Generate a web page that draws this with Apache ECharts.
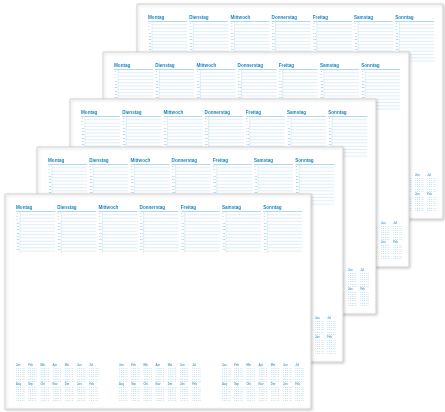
<!DOCTYPE html>
<html><head><meta charset="utf-8">
<script src="https://cdn.jsdelivr.net/npm/echarts@6/dist/echarts.min.js"></script>
<style>html,body{margin:0;padding:0;background:#fff}#c{width:445px;height:412px}</style>
</head><body><div id="c"></div>
<script>
const days = ['Montag','Dienstag','Mittwoch','Donnerstag','Freitag','Samstag','Sonntag'];
const hours = ['7','8','9','10','11','12','13','14','15','16','17','18'];
const months = ['Jan','Feb','Mär','Apr','Mai','Jun','Jul','Aug','Sep','Okt','Nov','Dez','Jan','Feb'];
const sheetX = [137,103,70,37,5];
const sheetY = [4,52,99,147,194];

const W = 306, H = 215, BLUE = '#1f86bf', LIGHT = '#9ccbe6';
const els = [];
for (let s = 0; s < sheetX.length; s++) {
  const ox = sheetX[s], oy = sheetY[s];
  els.push({type:'rect', shape:{x:ox,y:oy,width:W,height:H},
    style:{fill:'#fff', stroke:'#d6d6d6', lineWidth:1, shadowBlur:3, shadowColor:'rgba(0,0,0,0.18)', shadowOffsetX:1, shadowOffsetY:1}});
  days.forEach((d, i) => {
    const cx = ox + 11 + i * 41.2;
    els.push({type:'text', style:{x:cx, y:oy + 11, text:d, fill:BLUE, font:'bold 4.6px "Liberation Sans"'}});
    els.push({type:'line', shape:{x1:cx, y1:oy+17.5, x2:cx+39, y2:oy+17.5}, style:{stroke:'#7fbcde', lineWidth:0.6}});
    hours.forEach((h, j) => {
      const y = oy + 20.8 + j * 3.3;
      els.push({type:'line', shape:{x1:cx+4, y1:y, x2:cx+39, y2:y}, style:{stroke:'#bcdcee', lineWidth:0.5}});
      els.push({type:'text', style:{x:cx+0.5, y:y-2.6, text:h, fill:'#6fb2d8', font:'2.4px "Liberation Sans"'}});
    });
    els.push({type:'line', shape:{x1:cx+4, y1:oy+18, x2:cx+4, y2:oy+59}, style:{stroke:'#bcdcee', lineWidth:0.5}});
  });
  for (let b = 0; b < 3; b++) {
    for (let r = 0; r < 2; r++) {
      for (let m = 0; m < 7; m++) {
        const mx = ox + 11 + b * 103 + m * 12.2;
        const my = oy + 170 + r * 19;
        els.push({type:'text', style:{x:mx, y:my, text:months[(r*7+m)%months.length], fill:'#4fa3d1', font:'bold 2.6px "Liberation Sans"'}});
        for (let k = 0; k < 7; k++) {
          els.push({type:'text', style:{x:mx, y:my + 3 + k*2.2, text:'1 2 3 4 5', fill:LIGHT, font:'2.2px "Liberation Sans"'}});
        }
      }
    }
  }
}
const chart = echarts.init(document.getElementById('c'));
chart.setOption({animation:false, graphic:{elements:els}});
</script></body></html>
